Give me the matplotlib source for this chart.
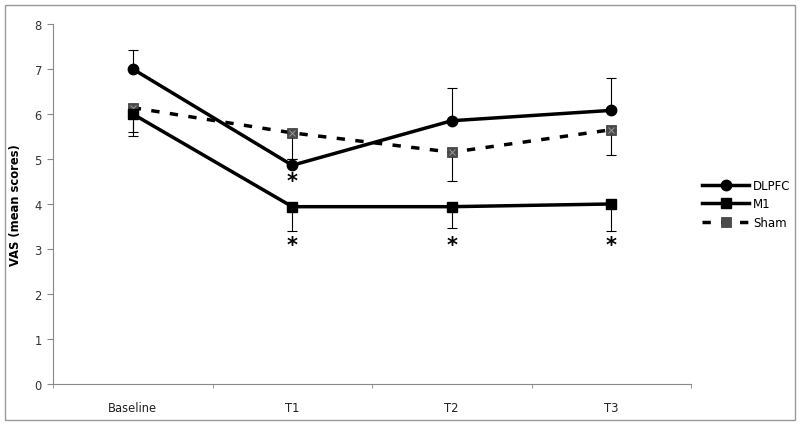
import matplotlib
matplotlib.use("Agg")
import matplotlib.pyplot as plt
import numpy as np
from matplotlib.patches import Rectangle

# Mean VAS scores per condition and time point.
timepoints = ["Baseline", "T1", "T2", "T3"]

dlpfc = [7.0, 4.86, 5.85, 6.08]
m1 = [6.0, 3.94, 3.94, 4.0]
sham = [6.14, 5.58, 5.15, 5.65]

# One-sided error bars (upper for DLPFC, lower for M1 and Sham).
dlpfc_err_up = [0.42, 0.14, 0.73, 0.72]
m1_err_down = [0.5, 0.54, 0.48, 0.6]
sham_err_down = [0.54, 0.58, 0.63, 0.56]

# Significance stars (time point index, y value).
star_x = [1, 1, 2, 3]
star_y = [4.5, 3.08, 3.08, 3.08]

plt.rcParams["font.family"] = ["DejaVu Sans"]

fig = plt.figure(figsize=(8, 4.27), dpi=100)
ax = fig.add_axes([0.06625, 0.0984, 0.7975, 0.8431])

x = np.arange(len(timepoints))
zeros = np.zeros(len(timepoints))

# error bars first so the markers sit on top
for vals, err in [(dlpfc, [zeros, dlpfc_err_up]),
                  (m1, [m1_err_down, zeros]),
                  (sham, [sham_err_down, zeros])]:
    ax.errorbar(x, vals, yerr=err, fmt="none", ecolor="black",
                elinewidth=0.8, capsize=3.5, capthick=0.8, zorder=2)

ax.plot(x, dlpfc, color="black", lw=2.5, marker="o", ms=7.5, label="DLPFC", zorder=4)
ax.plot(x, m1, color="black", lw=2.5, marker="s", ms=7.5, label="M1", zorder=4)
ax.plot(x, sham, color="black", lw=2.5, linestyle=(0, (2.4, 3.0)), marker="s",
        ms=7.5, mfc="#4a4a4a", mec="#333333", mew=0.5, label="Sham", zorder=3)
# faint cross pattern inside the sham squares
ax.plot(x, sham, linestyle="none", marker="x", ms=5, mec="#9a9a9a", mew=0.7,
        zorder=3)

for sx, sy in zip(star_x, star_y):
    ax.text(sx, sy, "*", ha="center", va="center", fontsize=15,
            fontweight="bold", color="black")

ax.set_xlim(-0.5, 3.5)
ax.set_ylim(0, 8)
ax.set_yticks(range(0, 9))
ax.set_xticks(x)
ax.set_xticklabels(timepoints)
ax.set_xticks(np.arange(-0.5, 4.0, 1.0), minor=True)
ax.tick_params(axis="x", which="major", length=0, pad=12, labelsize=8.3,
               labelcolor="#222222")
ax.tick_params(axis="x", which="minor", length=3, color="#888888", direction="out")
ax.tick_params(axis="y", length=4, color="#888888", labelsize=8.3,
               labelcolor="#333333", pad=4)

for side in ["top", "right"]:
    ax.spines[side].set_visible(False)
for side in ["left", "bottom"]:
    ax.spines[side].set_color("#888888")
    ax.spines[side].set_linewidth(0.8)

ax.set_ylabel("VAS (mean scores)", fontsize=8.3, fontweight="bold", labelpad=9)

handles, labels = ax.get_legend_handles_labels()
ax.legend(handles, labels, loc="center left", bbox_to_anchor=(1.01, 0.5),
          frameon=False, fontsize=8.5, handlelength=4.0, handletextpad=0.3,
          labelspacing=0.45, borderaxespad=0)

# outer chart border
fig.patches.append(Rectangle((0.00625, 0.014), 0.9875, 0.972,
                             transform=fig.transFigure, fill=False,
                             edgecolor="#999999", lw=1.0))

fig.savefig("out.png", dpi=100)
